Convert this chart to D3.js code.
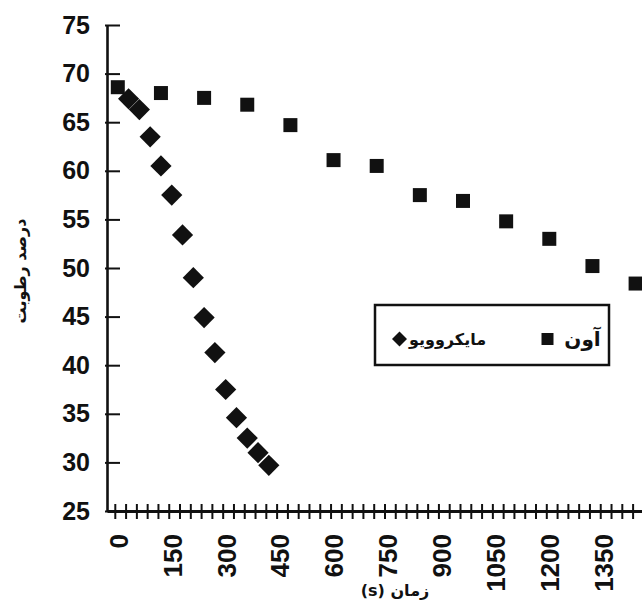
<!DOCTYPE html>
<html>
<head>
<meta charset="utf-8">
<script src="https://cdn.jsdelivr.net/npm/d3@7"></script>
<style>
  html, body { margin: 0; padding: 0; background: #fff; }
  svg { display: block; }
</style>
</head>
<body>
<svg id="chart" width="642" height="614"></svg>
<script>
// ---- data ----
const ovenTimes = [0, 120, 240, 360, 480, 600, 720, 840, 960, 1080, 1200, 1320, 1440];
const ovenMoisture = [68.6, 68.0, 67.5, 66.8, 64.7, 61.1, 60.5, 57.5, 56.9, 54.8, 53.0, 50.2, 48.4];
const microTimes = [30, 60, 90, 120, 150, 180, 210, 240, 270, 300, 330, 360, 390, 420];
const microMoisture = [67.4, 66.3, 63.5, 60.5, 57.5, 53.4, 49.0, 44.9, 41.3, 37.5, 34.6, 32.5, 31.0, 29.7];
const yTicks = [25, 30, 35, 40, 45, 50, 55, 60, 65, 70, 75];
const xLabelTicks = [0, 150, 300, 450, 600, 750, 900, 1050, 1200, 1350];
const xMinorTicks = d3.range(0, 1441, 30);
const seriesNames = ["آون", "مایکروویو"];
const yTitle = "درصد رطوبت";
const xTitle = "زمان (s)";

// ---- layout ----
const svg = d3.select("#chart");
const axisX = 107, axisY = 511, rightEdge = 642;
const ink = "#111";

const x = d3.scaleLinear().domain([0, 1440]).range([117.8, 635.6]);
const y = d3.scaleLinear().domain([25, 75]).range([511, 25]);
const xFull = x.copy().domain([x.invert(axisX), x.invert(rightEdge)]).range([axisX, rightEdge]);

// y axis
const yAxis = svg.append("g")
  .attr("transform", `translate(${axisX},0)`)
  .call(d3.axisLeft(y).tickValues(yTicks).tickSizeInner(-13).tickSizeOuter(0).tickPadding(17));
yAxis.select(".domain").attr("stroke", ink).attr("stroke-width", 2.6);
yAxis.selectAll(".tick line").attr("stroke", ink).attr("stroke-width", 2).attr("x1", -2);
yAxis.selectAll(".tick text")
  .attr("x", -17)
  .attr("fill", ink)
  .style("font-family", "'Liberation Sans', Arial, sans-serif")
  .style("font-weight", "bold")
  .style("font-size", "25px");

// x axis line + labels
const xLab = svg.append("g")
  .attr("transform", `translate(0,${axisY})`)
  .call(d3.axisBottom(xFull).tickValues(xLabelTicks).tickSize(0).tickFormat(d3.format("d")));
xLab.select(".domain").attr("stroke", ink).attr("stroke-width", 2.8);
xLab.selectAll(".tick text")
  .attr("transform", "rotate(-90)")
  .attr("x", -23)
  .attr("y", 0)
  .attr("dy", "0.36em")
  .attr("text-anchor", "end")
  .attr("fill", ink)
  .style("font-family", "'Liberation Sans', Arial, sans-serif")
  .style("font-weight", "bold")
  .style("font-size", "26px");

// x axis minor ticks (crossing the axis line)
const xMinor = svg.append("g")
  .attr("transform", `translate(-3,${axisY - 7})`)
  .call(d3.axisBottom(xFull).tickValues(xMinorTicks).tickSizeInner(15).tickSizeOuter(0).tickFormat(() => ""));
xMinor.select(".domain").remove();
xMinor.selectAll(".tick line").style("stroke", ink).style("stroke-width", "2px");

// titles
svg.append("text")
  .attr("transform", `translate(20,271) rotate(-90)`)
  .attr("text-anchor", "middle")
  .attr("direction", "rtl")
  .attr("dominant-baseline", "central")
  .attr("fill", ink)
  .style("font-family", "'DejaVu Sans', sans-serif")
  .style("font-weight", "bold")
  .style("font-size", "16px")
  .text(yTitle);

svg.append("text")
  .attr("x", 395).attr("y", 590)
  .attr("text-anchor", "middle")
  .attr("direction", "rtl")
  .style("direction", "rtl")
  .style("unicode-bidi", "embed")
  .attr("dominant-baseline", "central")
  .attr("fill", ink)
  .style("font-family", "'DejaVu Sans', sans-serif")
  .style("font-weight", "bold")
  .style("font-size", "16px")
  .text(xTitle);

// markers
const squareSym = d3.symbol().type(d3.symbolSquare).size(196);
const diamondSym = d3.symbol().type(d3.symbolSquare).size(225);

svg.append("g").selectAll("path")
  .data(microTimes.map((t, i) => [t, microMoisture[i]]))
  .join("path")
  .attr("d", diamondSym)
  .attr("transform", d => `translate(${x(d[0])},${y(d[1])}) rotate(45)`)
  .attr("fill", ink);

svg.append("g").selectAll("path")
  .data(ovenTimes.map((t, i) => [t, ovenMoisture[i]]))
  .join("path")
  .attr("d", squareSym)
  .attr("transform", d => `translate(${x(d[0])},${y(d[1])})`)
  .attr("fill", ink);

// legend
const lg = svg.append("g");
lg.append("rect")
  .attr("x", 375).attr("y", 305).attr("width", 234).attr("height", 60)
  .attr("fill", "#fff").attr("stroke", ink).attr("stroke-width", 2.5);
const legendItems = [
  { name: seriesNames[0], sym: d3.symbol().type(d3.symbolSquare).size(144)(), rot: 0, mx: 547.5, tx: 582.5, fs: 20 },
  { name: seriesNames[1], sym: d3.symbol().type(d3.symbolSquare).size(112)(), rot: 45, mx: 399.5, tx: 447.5, fs: 16 }
];
legendItems.forEach(it => {
  lg.append("path").attr("d", it.sym)
    .attr("transform", `translate(${it.mx},339) rotate(${it.rot})`)
    .attr("fill", ink);
  lg.append("text")
    .attr("x", it.tx).attr("y", 339)
    .attr("text-anchor", "middle")
    .attr("dominant-baseline", "central")
    .attr("fill", ink)
    .style("font-family", "'DejaVu Sans', sans-serif")
    .style("font-weight", "bold")
    .style("font-size", it.fs + "px")
    .text(it.name);
});
</script>
</body>
</html>
